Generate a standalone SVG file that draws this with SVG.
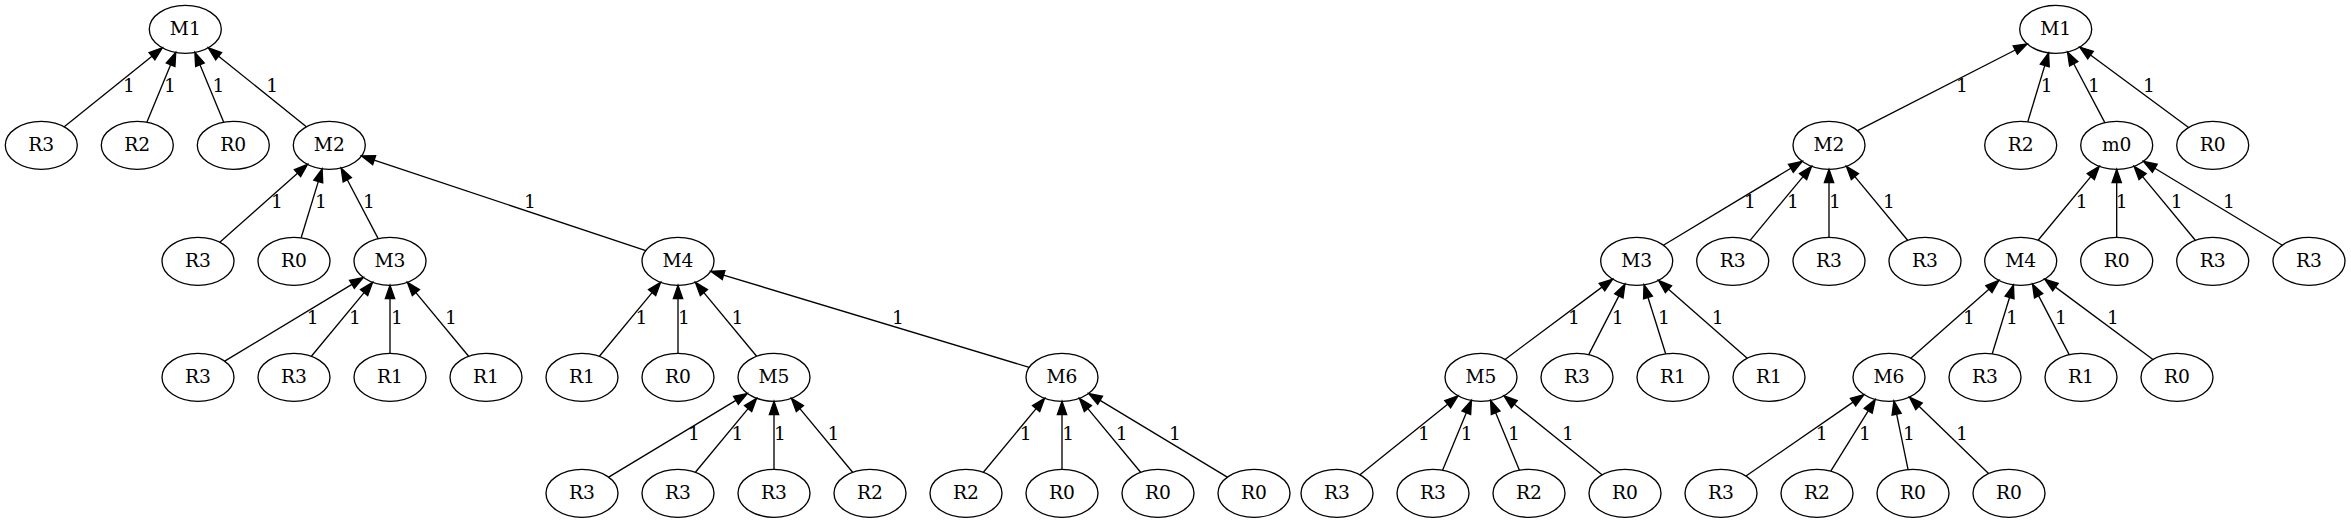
<svg xmlns="http://www.w3.org/2000/svg" width="2351" height="523" viewBox="0 0 2351 523">
<style>
.n ellipse{fill:none;stroke:#000;stroke-width:1.33}
.n text{font-family:"DejaVu Serif",serif;font-size:18.67px;text-anchor:middle;fill:#000}
#edges path{fill:none;stroke:#000;stroke-width:1.33;marker-end:url(#arr)}
#edges text{font-family:"DejaVu Serif",serif;font-size:18.67px;text-anchor:middle;fill:#000}
</style>
<defs>
<marker id="arr" markerUnits="userSpaceOnUse" markerWidth="14" markerHeight="10" refX="0" refY="4.67" orient="auto" overflow="visible"><path d="M0,0 L13.33,4.67 L0,9.33 Z" fill="#000" stroke="#000" stroke-width="1.33"/></marker>
</defs>
<rect width="2351" height="523" fill="#fff"/>
<g id="edges">
<path d="M64.25,126.81 L151.97,56.15"/><text x="129" y="92.3">1</text>
<path d="M146.87,122.16 L170.63,64.76"/><text x="170" y="92.3">1</text>
<path d="M223.73,122.16 L199.97,64.76"/><text x="218.5" y="92.3">1</text>
<path d="M306.35,126.81 L218.63,56.15"/><text x="272.3" y="92.3">1</text>
<path d="M219.76,242.18 L297.53,173.22"/><text x="277" y="208.3">1</text>
<path d="M301.16,237.78 L318.26,181.58"/><text x="321" y="208.3">1</text>
<path d="M378.18,238.63 L347.29,179.79"/><text x="369" y="208.3">1</text>
<path d="M645.78,250.6 L374.17,160.2"/><text x="530" y="208.3">1</text>
<path d="M224.68,361.18 L351.91,284.31"/><text x="312.6" y="324.3">1</text>
<path d="M311.39,356.29 L364.11,292.58"/><text x="355" y="324.3">1</text>
<path d="M390,353.3 L390,298.63"/><text x="397" y="324.3">1</text>
<path d="M468.61,356.29 L415.89,292.58"/><text x="451" y="324.3">1</text>
<path d="M599.39,356.29 L652.11,292.58"/><text x="641.5" y="324.3">1</text>
<path d="M678,353.3 L678,298.63"/><text x="684" y="324.3">1</text>
<path d="M756.61,356.29 L703.89,292.58"/><text x="737.5" y="324.3">1</text>
<path d="M1029.21,367.39 L723.55,275.07"/><text x="898" y="324.3">1</text>
<path d="M608.68,477.18 L735.91,400.31"/><text x="694" y="440.3">1</text>
<path d="M695.39,472.29 L748.11,408.58"/><text x="737.5" y="440.3">1</text>
<path d="M774,469.3 L774,414.63"/><text x="780" y="440.3">1</text>
<path d="M852.61,472.29 L799.89,408.58"/><text x="833.5" y="440.3">1</text>
<path d="M983.39,472.29 L1036.11,408.58"/><text x="1025.7" y="440.3">1</text>
<path d="M1062,469.3 L1062,414.63"/><text x="1068.3" y="440.3">1</text>
<path d="M1140.61,472.29 L1087.89,408.58"/><text x="1121.7" y="440.3">1</text>
<path d="M1227.32,477.18 L1100.09,400.31"/><text x="1175" y="440.3">1</text>
<path d="M1857.56,130.69 L2015.27,49.98"/><text x="1962" y="92.3">1</text>
<path d="M2027.8,121.77 L2044.75,65.6"/><text x="2046.7" y="92.3">1</text>
<path d="M2104.85,122.64 L2073.74,63.77"/><text x="2094" y="92.3">1</text>
<path d="M2188.6,127.48 L2090.52,55.04"/><text x="2149" y="92.3">1</text>
<path d="M1663.4,245.2 L1790.89,168.28"/><text x="1750" y="208.3">1</text>
<path d="M1750.12,240.31 L1803.07,176.55"/><text x="1793" y="208.3">1</text>
<path d="M1829,237.3 L1829,182.63"/><text x="1835" y="208.3">1</text>
<path d="M1907.61,240.29 L1854.89,176.58"/><text x="1889" y="208.3">1</text>
<path d="M2038.09,240.29 L2090.81,176.58"/><text x="2081.7" y="208.3">1</text>
<path d="M2116.7,237.3 L2116.7,182.63"/><text x="2121.7" y="208.3">1</text>
<path d="M2195.31,240.29 L2142.59,176.58"/><text x="2176.7" y="208.3">1</text>
<path d="M2282.3,245.2 L2154.81,168.28"/><text x="2229" y="208.3">1</text>
<path d="M1505.03,359.43 L1601.97,287.12"/><text x="1574" y="324.3">1</text>
<path d="M1588.7,354.58 L1618.89,295.87"/><text x="1617.7" y="324.3">1</text>
<path d="M1665.67,353.81 L1648.01,297.51"/><text x="1664" y="324.3">1</text>
<path d="M1747.22,358.2 L1668.5,289.19"/><text x="1717.7" y="324.3">1</text>
<path d="M1910.76,358.18 L1988.93,289.22"/><text x="1969" y="324.3">1</text>
<path d="M1992.23,353.8 L2009.55,297.55"/><text x="2012" y="324.3">1</text>
<path d="M2069.22,354.61 L2038.63,295.82"/><text x="2061" y="324.3">1</text>
<path d="M2152.95,359.44 L2055.46,287.1"/><text x="2113" y="324.3">1</text>
<path d="M1359.95,474.81 L1447.67,404.15"/><text x="1424" y="440.3">1</text>
<path d="M1442.57,470.16 L1466.33,412.76"/><text x="1466.7" y="440.3">1</text>
<path d="M1519.43,470.16 L1495.67,412.76"/><text x="1514" y="440.3">1</text>
<path d="M1602.05,474.81 L1514.33,404.15"/><text x="1568" y="440.3">1</text>
<path d="M1746.01,476.03 L1853.02,402.14"/><text x="1821.7" y="440.3">1</text>
<path d="M1830.76,471.12 L1868.21,410.81"/><text x="1865" y="440.3">1</text>
<path d="M1908.08,469.53 L1896.62,414.13"/><text x="1909" y="440.3">1</text>
<path d="M1988.56,473.54 L1919.03,406.33"/><text x="1962" y="440.3">1</text>
</g>
<g id="l_M1" class="n"><ellipse cx="185.3" cy="29.3" rx="36" ry="24"/><text x="185.3" y="34.6">M1</text></g>
<g id="l_R3a" class="n"><ellipse cx="41.3" cy="145.3" rx="36" ry="24"/><text x="41.3" y="150.6">R3</text></g>
<g id="l_R2a" class="n"><ellipse cx="137.3" cy="145.3" rx="36" ry="24"/><text x="137.3" y="150.6">R2</text></g>
<g id="l_R0a" class="n"><ellipse cx="233.3" cy="145.3" rx="36" ry="24"/><text x="233.3" y="150.6">R0</text></g>
<g id="l_M2" class="n"><ellipse cx="329.3" cy="145.3" rx="36" ry="24"/><text x="329.3" y="150.6">M2</text></g>
<g id="l_R3b" class="n"><ellipse cx="198" cy="261.3" rx="36" ry="24"/><text x="198" y="266.6">R3</text></g>
<g id="l_R0b" class="n"><ellipse cx="294" cy="261.3" rx="36" ry="24"/><text x="294" y="266.6">R0</text></g>
<g id="l_M3" class="n"><ellipse cx="390" cy="261.3" rx="36" ry="24"/><text x="390" y="266.6">M3</text></g>
<g id="l_M4" class="n"><ellipse cx="678" cy="261.3" rx="36" ry="24"/><text x="678" y="266.6">M4</text></g>
<g id="l_R3c" class="n"><ellipse cx="198" cy="377.3" rx="36" ry="24"/><text x="198" y="382.6">R3</text></g>
<g id="l_R3d" class="n"><ellipse cx="294" cy="377.3" rx="36" ry="24"/><text x="294" y="382.6">R3</text></g>
<g id="l_R1a" class="n"><ellipse cx="390" cy="377.3" rx="36" ry="24"/><text x="390" y="382.6">R1</text></g>
<g id="l_R1b" class="n"><ellipse cx="486" cy="377.3" rx="36" ry="24"/><text x="486" y="382.6">R1</text></g>
<g id="l_R1c" class="n"><ellipse cx="582" cy="377.3" rx="36" ry="24"/><text x="582" y="382.6">R1</text></g>
<g id="l_R0c" class="n"><ellipse cx="678" cy="377.3" rx="36" ry="24"/><text x="678" y="382.6">R0</text></g>
<g id="l_M5" class="n"><ellipse cx="774" cy="377.3" rx="36" ry="24"/><text x="774" y="382.6">M5</text></g>
<g id="l_M6" class="n"><ellipse cx="1062" cy="377.3" rx="36" ry="24"/><text x="1062" y="382.6">M6</text></g>
<g id="l_R3e" class="n"><ellipse cx="582" cy="493.3" rx="36" ry="24"/><text x="582" y="498.6">R3</text></g>
<g id="l_R3f" class="n"><ellipse cx="678" cy="493.3" rx="36" ry="24"/><text x="678" y="498.6">R3</text></g>
<g id="l_R3g" class="n"><ellipse cx="774" cy="493.3" rx="36" ry="24"/><text x="774" y="498.6">R3</text></g>
<g id="l_R2b" class="n"><ellipse cx="870" cy="493.3" rx="36" ry="24"/><text x="870" y="498.6">R2</text></g>
<g id="l_R2c" class="n"><ellipse cx="966" cy="493.3" rx="36" ry="24"/><text x="966" y="498.6">R2</text></g>
<g id="l_R0d" class="n"><ellipse cx="1062" cy="493.3" rx="36" ry="24"/><text x="1062" y="498.6">R0</text></g>
<g id="l_R0e" class="n"><ellipse cx="1158" cy="493.3" rx="36" ry="24"/><text x="1158" y="498.6">R0</text></g>
<g id="l_R0f" class="n"><ellipse cx="1254" cy="493.3" rx="36" ry="24"/><text x="1254" y="498.6">R0</text></g>
<g id="r_M1" class="n"><ellipse cx="2055.7" cy="29.3" rx="36" ry="24"/><text x="2055.7" y="34.6">M1</text></g>
<g id="r_M2" class="n"><ellipse cx="1829" cy="145.3" rx="36" ry="24"/><text x="1829" y="150.6">M2</text></g>
<g id="r_R2a" class="n"><ellipse cx="2020.7" cy="145.3" rx="36" ry="24"/><text x="2020.7" y="150.6">R2</text></g>
<g id="r_m0" class="n"><ellipse cx="2116.7" cy="145.3" rx="36" ry="24"/><text x="2116.7" y="150.6">m0</text></g>
<g id="r_R0a" class="n"><ellipse cx="2212.7" cy="145.3" rx="36" ry="24"/><text x="2212.7" y="150.6">R0</text></g>
<g id="r_M3" class="n"><ellipse cx="1636.7" cy="261.3" rx="36" ry="24"/><text x="1636.7" y="266.6">M3</text></g>
<g id="r_R3a" class="n"><ellipse cx="1732.7" cy="261.3" rx="36" ry="24"/><text x="1732.7" y="266.6">R3</text></g>
<g id="r_R3b" class="n"><ellipse cx="1829" cy="261.3" rx="36" ry="24"/><text x="1829" y="266.6">R3</text></g>
<g id="r_R3c" class="n"><ellipse cx="1925" cy="261.3" rx="36" ry="24"/><text x="1925" y="266.6">R3</text></g>
<g id="r_M4" class="n"><ellipse cx="2020.7" cy="261.3" rx="36" ry="24"/><text x="2020.7" y="266.6">M4</text></g>
<g id="r_R0b" class="n"><ellipse cx="2116.7" cy="261.3" rx="36" ry="24"/><text x="2116.7" y="266.6">R0</text></g>
<g id="r_R3d" class="n"><ellipse cx="2212.7" cy="261.3" rx="36" ry="24"/><text x="2212.7" y="266.6">R3</text></g>
<g id="r_R3e" class="n"><ellipse cx="2309" cy="261.3" rx="36" ry="24"/><text x="2309" y="266.6">R3</text></g>
<g id="r_M5" class="n"><ellipse cx="1481" cy="377.3" rx="36" ry="24"/><text x="1481" y="382.6">M5</text></g>
<g id="r_R3f" class="n"><ellipse cx="1577" cy="377.3" rx="36" ry="24"/><text x="1577" y="382.6">R3</text></g>
<g id="r_R1a" class="n"><ellipse cx="1673" cy="377.3" rx="36" ry="24"/><text x="1673" y="382.6">R1</text></g>
<g id="r_R1b" class="n"><ellipse cx="1769" cy="377.3" rx="36" ry="24"/><text x="1769" y="382.6">R1</text></g>
<g id="r_M6" class="n"><ellipse cx="1889" cy="377.3" rx="36" ry="24"/><text x="1889" y="382.6">M6</text></g>
<g id="r_R3g" class="n"><ellipse cx="1985" cy="377.3" rx="36" ry="24"/><text x="1985" y="382.6">R3</text></g>
<g id="r_R1c" class="n"><ellipse cx="2081" cy="377.3" rx="36" ry="24"/><text x="2081" y="382.6">R1</text></g>
<g id="r_R0c" class="n"><ellipse cx="2177" cy="377.3" rx="36" ry="24"/><text x="2177" y="382.6">R0</text></g>
<g id="r_R3h" class="n"><ellipse cx="1337" cy="493.3" rx="36" ry="24"/><text x="1337" y="498.6">R3</text></g>
<g id="r_R3i" class="n"><ellipse cx="1433" cy="493.3" rx="36" ry="24"/><text x="1433" y="498.6">R3</text></g>
<g id="r_R2b" class="n"><ellipse cx="1529" cy="493.3" rx="36" ry="24"/><text x="1529" y="498.6">R2</text></g>
<g id="r_R0d" class="n"><ellipse cx="1625" cy="493.3" rx="36" ry="24"/><text x="1625" y="498.6">R0</text></g>
<g id="r_R3j" class="n"><ellipse cx="1721" cy="493.3" rx="36" ry="24"/><text x="1721" y="498.6">R3</text></g>
<g id="r_R2c" class="n"><ellipse cx="1817" cy="493.3" rx="36" ry="24"/><text x="1817" y="498.6">R2</text></g>
<g id="r_R0e" class="n"><ellipse cx="1913" cy="493.3" rx="36" ry="24"/><text x="1913" y="498.6">R0</text></g>
<g id="r_R0f" class="n"><ellipse cx="2009" cy="493.3" rx="36" ry="24"/><text x="2009" y="498.6">R0</text></g>
</svg>
